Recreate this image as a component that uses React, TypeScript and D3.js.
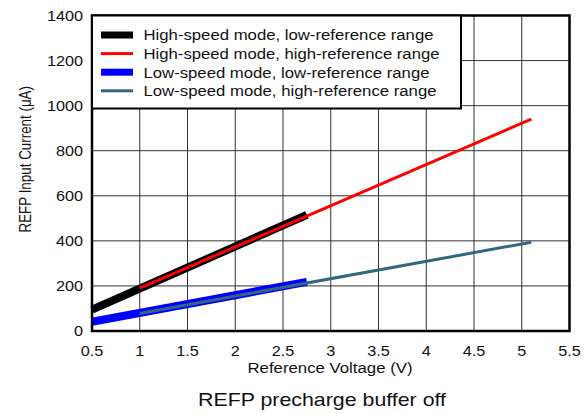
import React from "react";
import * as d3 from "d3";

const xTicks = [0.5, 1, 1.5, 2, 2.5, 3, 3.5, 4, 4.5, 5, 5.5];
const yTicks = [0, 200, 400, 600, 800, 1000, 1200, 1400];

const hsLowX = [0.5, 2.75];
const hsLowY = [95, 515];
const hsHighX = [1.0, 5.1];
const hsHighY = [190, 940];
const lsLowX = [0.5, 2.75];
const lsLowY = [41, 218];
const lsHighX = [1.0, 5.1];
const lsHighY = [78, 394];

const seriesNames = [
  "High-speed mode, low-reference range",
  "High-speed mode, high-reference range",
  "Low-speed mode, low-reference range",
  "Low-speed mode, high-reference range",
];

export default function App() {
  const W = 587, H = 413;
  const L = 92, R = 569.5, T = 15.5, B = 331;
  const x = d3.scaleLinear().domain([0.5, 5.5]).range([L, R]);
  const y = d3.scaleLinear().domain([0, 1400]).range([B, T]);
  const line = d3.line<[number, number]>().x(d => x(d[0])).y(d => y(d[1]));
  const pts = (xs: number[], ys: number[]) => xs.map((v, i) => [v, ys[i]] as [number, number]);

  const series = [
    { xs: hsLowX, ys: hsLowY, color: "#000000", w: 8 },
    { xs: lsLowX, ys: lsLowY, color: "#0000ff", w: 8 },
    { xs: hsHighX, ys: hsHighY, color: "#ff0000", w: 3 },
    { xs: lsHighX, ys: lsHighY, color: "#336680", w: 3 },
  ];
  const legend = [
    { color: "#000000", w: 7, len: 290 },
    { color: "#ff0000", w: 3, len: 296 },
    { color: "#0000ff", w: 7, len: 286 },
    { color: "#336680", w: 3, len: 293 },
  ];
  const font = "Liberation Sans, Arial, sans-serif";
  const sx = 1.16;

  return (
    <svg width={W} height={H} style={{ position: "absolute", left: 0, top: 0 }} fontFamily={font}>
      <rect x={0} y={0} width={W} height={H} fill="#fff" />
      {xTicks.slice(1, -1).map(t => (
        <line key={"gx" + t} x1={x(t)} x2={x(t)} y1={T} y2={B} stroke="#333" strokeWidth={1} />
      ))}
      {yTicks.slice(1, -1).map(t => (
        <line key={"gy" + t} x1={L} x2={R} y1={y(t)} y2={y(t)} stroke="#333" strokeWidth={1} />
      ))}
      {series.map((s, i) => (
        <path key={i} d={line(pts(s.xs, s.ys)) || ""} stroke={s.color} strokeWidth={s.w} fill="none" />
      ))}
      <rect x={L} y={T} width={R - L} height={B - T} fill="none" stroke="#000" strokeWidth={2.5} />
      <rect x={L} y={T} width={461 - L} height={108.5 - T} fill="#fff" stroke="#000" strokeWidth={2} />
      {seriesNames.map((n, i) => {
        const yy = 35 + i * 18.6;
        return (
          <g key={n}>
            <line x1={101} x2={133} y1={yy} y2={yy} stroke={legend[i].color} strokeWidth={legend[i].w} />
            <text x={143.5} y={yy + 5.3} fontSize={14} fill="#111" textLength={legend[i].len} lengthAdjust="spacingAndGlyphs">{n}</text>
          </g>
        );
      })}
      {yTicks.map(t => (
        <text key={"ty" + t} transform={`translate(83,${y(t) + 5}) scale(${sx},1)`} fontSize={14} textAnchor="end" fill="#111">{t}</text>
      ))}
      {xTicks.map(t => (
        <text key={"tx" + t} transform={`translate(${x(t)},356) scale(${sx},1)`} fontSize={14} textAnchor="middle" fill="#111">{t}</text>
      ))}
      <text x={330 - 82.5} y={373} fontSize={14} fill="#111" textLength={165} lengthAdjust="spacingAndGlyphs">Reference Voltage (V)</text>
      <text x={322 - 124} y={406} fontSize={18.5} fill="#111" textLength={248} lengthAdjust="spacingAndGlyphs">REFP precharge buffer off</text>
      <text transform={`translate(30.5,232.5) scale(${sx},1) rotate(-90)`} fontSize={14} fill="#111" textLength={146.5} lengthAdjust="spacingAndGlyphs">REFP Input Current (μA)</text>
    </svg>
  );
}
